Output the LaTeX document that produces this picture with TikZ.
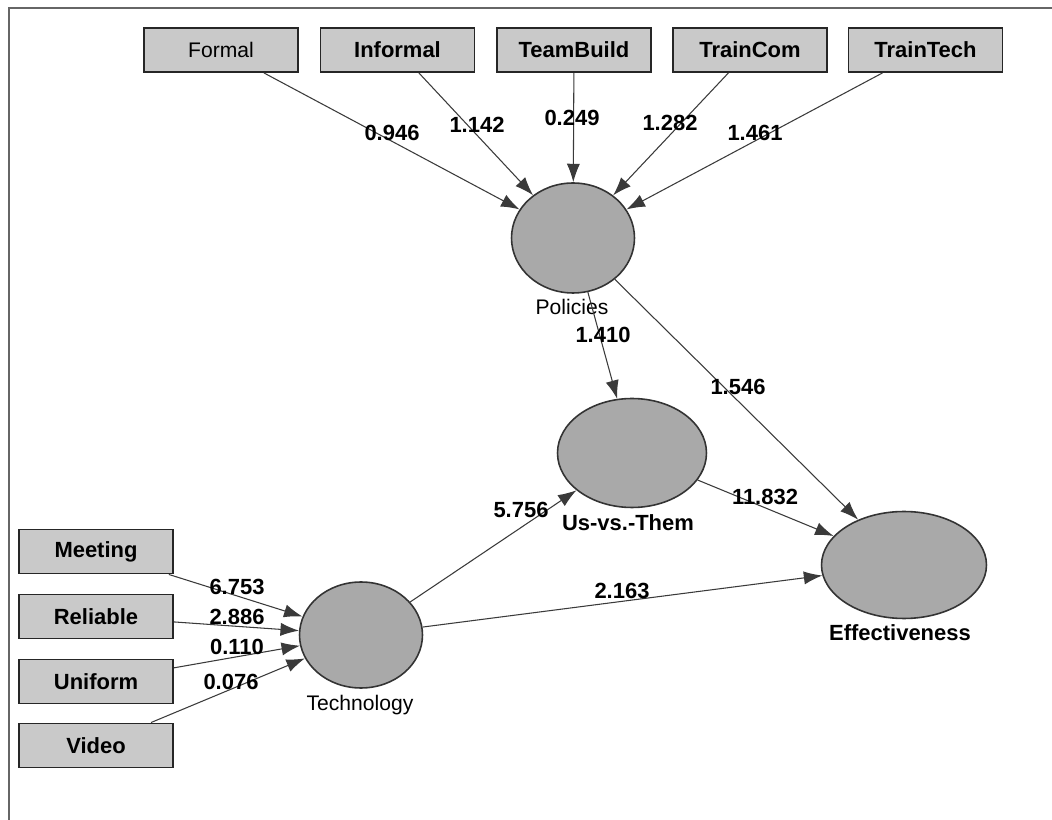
\documentclass[tikz,border=0pt]{standalone}
\usepackage{fontspec}
\setmainfont{Liberation Sans}
\usetikzlibrary{arrows.meta,shapes.geometric}
\definecolor{boxfill}{HTML}{C9C9C9}
\definecolor{ellfill}{HTML}{A9A9A9}
\definecolor{edgecol}{HTML}{3A3A3A}
\tikzset{
  indbox/.style={draw=black!85,line width=1.1pt,fill=boxfill,minimum width=3.08cm,minimum height=0.88cm,inner sep=0pt,font=\fontsize{12.5}{14}\selectfont\bfseries},
  latent/.style={ellipse,draw=black!80,line width=0.9pt,fill=ellfill,inner sep=0pt},
  path/.style={draw=edgecol,line width=0.6pt,-{Latex[length=10.5pt,width=7.5pt]}},
  coef/.style={font=\fontsize{12.5}{14}\selectfont\bfseries,inner sep=0pt},
  lvname/.style={font=\fontsize{12}{14}\selectfont,inner sep=0pt},
  lvnameb/.style={font=\fontsize{12.5}{14}\selectfont\bfseries,inner sep=0pt},
}
\begin{document}
\begin{tikzpicture}[x=0.02cm,y=-0.02cm]
\useasboundingbox (0,0) rectangle (1052,820);
\fill[white] (0,0) rectangle (1052,820);
\draw[black!60,line width=1pt] (1052,8) -- (9,8) -- (9,820);
% indicator boxes
\node[indbox,font=\fontsize{12}{14}\selectfont] (formal) at (221,50) {Formal};
\node[indbox] (informal) at (397.5,50) {Informal};
\node[indbox] (teambuild) at (574,50) {TeamBuild};
\node[indbox] (traincom) at (750,50) {TrainCom};
\node[indbox] (traintech) at (925.5,50) {TrainTech};
\node[indbox] (meeting) at (96,551.5) {Meeting};
\node[indbox] (reliable) at (96,616.5) {Reliable};
\node[indbox] (uniform) at (96,681.5) {Uniform};
\node[indbox] (video) at (96,745.5) {Video};
% latent variables
\node[latent,minimum width=2.46cm,minimum height=2.2cm] (pol) at (573,238) {};
\node[latent,minimum width=2.98cm,minimum height=2.18cm] (us) at (632,453) {};
\node[latent,minimum width=3.3cm,minimum height=2.14cm] (eff) at (904,565) {};
\node[latent,minimum width=2.46cm,minimum height=2.12cm] (tech) at (361,635) {};
\node[lvname] (polname) at (572,307) {Policies};
\node[lvnameb] (usname) at (628,523) {Us-vs.-Them};
\node[lvnameb] (effname) at (900,633) {Effectiveness};
\node[lvname] (techname) at (360,705) {Technology};
% paths
\draw[path] (formal) -- (pol);
\draw[path] (informal) -- (pol);
\draw[path] (teambuild) -- (pol);
\draw[path] (traincom) -- (pol);
\draw[path] (traintech) -- (pol);
\draw[path] (pol) -- (us);
\draw[path] (pol) -- (eff);
\draw[path] (us) -- (eff);
\draw[path] (tech) -- (us);
\draw[path] (tech) -- (eff);
\draw[path] (meeting) -- (tech);
\draw[path] (reliable) -- (tech);
\draw[path] (uniform) -- (tech);
\draw[path] (video) -- (tech);
% coefficients
\node[coef] (c1) at (392,133) {0.946};
\node[coef] (c2) at (477,125) {1.142};
\node[coef] (c3) at (572,118) {0.249};
\node[coef] (c4) at (670,123) {1.282};
\node[coef] (c5) at (755,133) {1.461};
\node[coef] (c6) at (603,335) {1.410};
\node[coef] (c7) at (738,387) {1.546};
\node[coef] (c8) at (765,497) {11.832};
\node[coef] (c9) at (521,510) {5.756};
\node[coef] (c10) at (622,591) {2.163};
\node[coef] (c11) at (237,587) {6.753};
\node[coef] (c12) at (237,617) {2.886};
\node[coef] (c13) at (237,647) {0.110};
\node[coef] (c14) at (231,682) {0.076};
\end{tikzpicture}
\end{document}
